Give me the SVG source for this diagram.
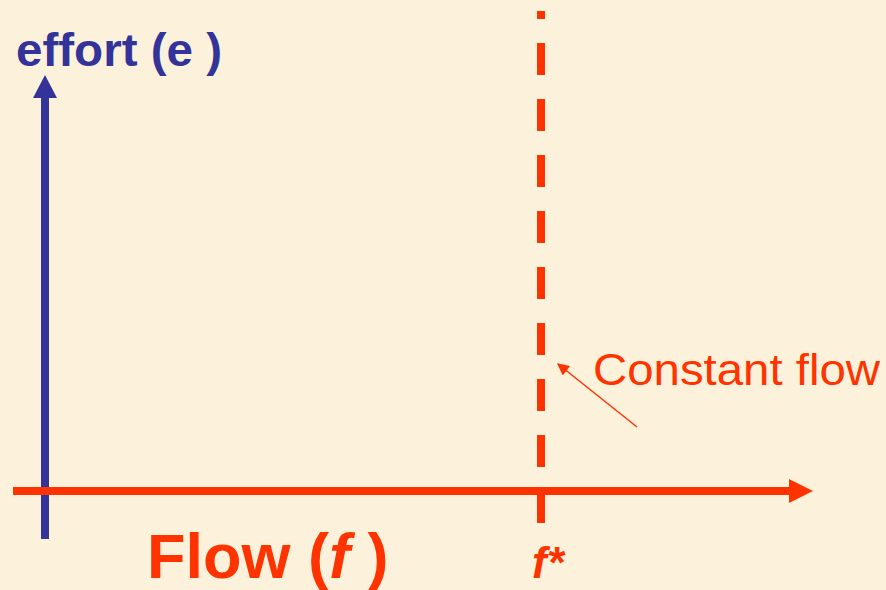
<svg xmlns="http://www.w3.org/2000/svg" width="886" height="590" viewBox="0 0 886 590">
<defs>
<style>
.red{fill:#FF3300}
.blue{fill:#333399}
.t{font-family:"Liberation Sans",Arial,sans-serif}
</style>
<marker id="ah" viewBox="0 0 10 10" refX="9" refY="5" markerWidth="14" markerHeight="12" markerUnits="userSpaceOnUse" orient="auto">
<path d="M0,0 L10,5 L0,10 z" fill="#FF3300"/>
</marker>
</defs>
<rect width="886" height="590" fill="#FCF2DB"/>
<g id="connectors">
<line id="e-axis" x1="45" y1="539" x2="45" y2="96" stroke="#333399" stroke-width="8"/>
<polygon points="33,98 57,98 45,75" fill="#333399"/>
<line id="f-axis" x1="13" y1="491" x2="790" y2="491" stroke="#FF3300" stroke-width="8"/>
<polygon points="789,479 813,491 789,503" fill="#FF3300"/>
<line id="constant" x1="541" y1="523" x2="541" y2="11" stroke="#FF3300" stroke-width="8" stroke-dasharray="32 24"/>
<line id="pointer" x1="637" y1="427" x2="558" y2="364" stroke="#FF3300" stroke-width="1.5" marker-end="url(#ah)"/>
</g>
<g id="label-effort"><text class="t blue" x="16" y="66" font-size="47" font-weight="bold" textLength="206" lengthAdjust="spacingAndGlyphs">effort (e )</text></g>
<g id="label-flow"><text class="t red" x="147" y="578" font-size="63" font-weight="bold">Flow (<tspan font-style="italic">f</tspan> )</text></g>
<g id="label-fstar"><text class="t red" x="532" y="578" font-size="44" font-weight="bold" font-style="italic">f*</text></g>
<g id="label-constant"><text class="t red" x="593" y="385" font-size="45" textLength="287" lengthAdjust="spacingAndGlyphs">Constant flow</text></g>
</svg>
